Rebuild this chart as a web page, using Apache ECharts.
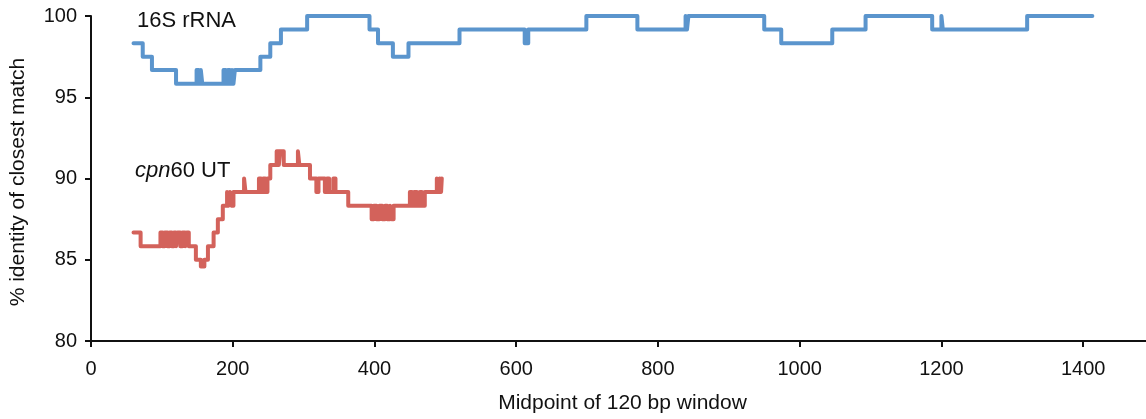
<!DOCTYPE html>
<html>
<head>
<meta charset="utf-8">
<script src="https://cdn.jsdelivr.net/npm/echarts@6/dist/echarts.min.js"></script>
<style>
  html, body { margin: 0; padding: 0; background: #fff; overflow: hidden; }
  /* the x axis runs on to 1500, a little past the right edge of the window */
  #chart { width: 1154px; height: 419px; }
</style>
</head>
<body>
<div id="chart"></div>
<script>
// Sliding 120 bp window: [window midpoint, % identity of closest match].
// Each point marks where the identity changes; it holds until the next point.
const rrna16S = [
  [60, 98.33], [73, 97.5], [86, 96.67], [120, 95.83],
  [149, 96.67], [152, 95.83], [155, 96.67], [157, 95.83],
  [187, 96.67], [190, 95.83], [193, 96.67], [196, 95.83], [199, 96.67], [201, 95.83], [203, 96.67],
  [239, 97.5], [253, 98.33], [268, 99.17], [305, 100],
  [393, 99.17], [405, 98.33], [426, 97.5], [448, 98.33],
  [520, 99.17], [612, 98.33], [617, 99.17], [699, 100],
  [771, 99.17], [839, 100], [841, 99.17], [843, 100],
  [950, 99.17], [974, 98.33], [1046, 99.17], [1093, 100],
  [1187, 99.17], [1200, 100], [1202, 99.17], [1321, 100], [1413, 100]
];

const cpn60UT = [
  [60, 86.67], [70, 85.83],
  [98, 86.67], [101, 85.83], [104, 86.67], [108, 85.83], [111, 86.67], [114, 85.83],
  [117, 86.67], [120, 85.83], [122, 86.67], [126, 85.83], [129, 86.67], [133, 85.83],
  [135, 86.67], [138, 85.83],
  [148, 85], [155, 84.58], [160, 85], [165, 85.83], [173, 86.67],
  [179, 87.5], [186, 88.33], [192, 89.17], [194, 88.33], [196, 89.17], [198, 88.33], [201, 89.17],
  [216, 90], [218, 89.17],
  [237, 90], [240, 89.17], [243, 90], [246, 89.17], [249, 90],
  [253, 90.83], [262, 91.67], [265, 90.83], [267, 91.67], [272, 90.83],
  [292, 91.67], [294, 90.83],
  [309, 90], [318, 89.17], [321, 90], [330, 89.17], [333, 90], [336, 89.17],
  [342, 90], [345, 89.17], [363, 88.33],
  [396, 87.5], [399, 88.33], [403, 87.5], [407, 88.33], [411, 87.5],
  [415, 88.33], [418, 87.5], [422, 88.33], [424, 87.5], [427, 88.33],
  [450, 89.17], [453, 88.33], [456, 89.17], [460, 88.33], [464, 89.17], [467, 88.33], [471, 89.17],
  [488, 90], [490, 89.17], [492, 90], [494, 89.17], [495, 90]
];

const xTicks = { min: 0, max: 1500, step: 200 };
const yTicks = { min: 80, max: 100, step: 5 };

const FONT = '"Liberation Sans", Arial, sans-serif';
const INK = '#111';

const chart = echarts.init(document.getElementById('chart'), null, { renderer: 'canvas' });

chart.setOption({
  animation: false,
  backgroundColor: '#fff',
  grid: { left: 91, right: 0, top: 16, bottom: 74.5, containLabel: false },
  xAxis: {
    type: 'value',
    min: xTicks.min, max: xTicks.max, interval: xTicks.step,
    name: 'Midpoint of 120 bp window',
    nameLocation: 'middle',
    nameGap: 52,
    nameTextStyle: { fontFamily: FONT, fontSize: 21, color: INK },
    axisLine: { show: true, lineStyle: { color: INK, width: 2 } },
    axisTick: { show: true, inside: false, length: 6, lineStyle: { color: INK, width: 2 } },
    axisLabel: {
      fontFamily: FONT, fontSize: 20, color: INK, margin: 18, showMaxLabel: false,
      formatter: (v) => String(v)
    },
    splitLine: { show: false }
  },
  yAxis: {
    type: 'value',
    min: yTicks.min, max: yTicks.max, interval: yTicks.step,
    axisLine: { show: true, lineStyle: { color: INK, width: 2 } },
    axisTick: { show: true, inside: false, length: 6, lineStyle: { color: INK, width: 2 } },
    axisLabel: { fontFamily: FONT, fontSize: 20, color: INK, margin: 14 },
    splitLine: { show: false }
  },
  graphic: [
    {
      type: 'text', x: 18, y: 182, rotation: Math.PI / 2,
      style: {
        text: '% identity of closest match',
        font: '21px ' + FONT, fill: INK,
        textAlign: 'center', textVerticalAlign: 'middle'
      }
    },
    {
      type: 'text', x: 137, y: 21,
      style: {
        text: '16S rRNA', font: '22px ' + FONT, fill: INK,
        textAlign: 'left', textVerticalAlign: 'middle'
      }
    },
    {
      type: 'text', x: 135, y: 171,
      style: {
        text: '{i|cpn}{n|60 UT}',
        fill: INK, textAlign: 'left', textVerticalAlign: 'middle',
        rich: {
          i: { fontFamily: FONT, fontSize: 22, fontStyle: 'italic', fill: INK, color: INK },
          n: { fontFamily: FONT, fontSize: 22, fill: INK, color: INK }
        }
      }
    }
  ],
  series: [
    {
      name: '16S rRNA', type: 'line', step: 'end', data: rrna16S,
      showSymbol: false, symbol: 'none',
      lineStyle: { color: '#5b95cd', width: 4, cap: 'round', join: 'round' },
      z: 3
    },
    {
      name: 'cpn60 UT', type: 'line', step: 'end', data: cpn60UT,
      showSymbol: false, symbol: 'none',
      lineStyle: { color: '#d3625b', width: 4, cap: 'round', join: 'round' },
      z: 3
    }
  ]
});
</script>
</body>
</html>
